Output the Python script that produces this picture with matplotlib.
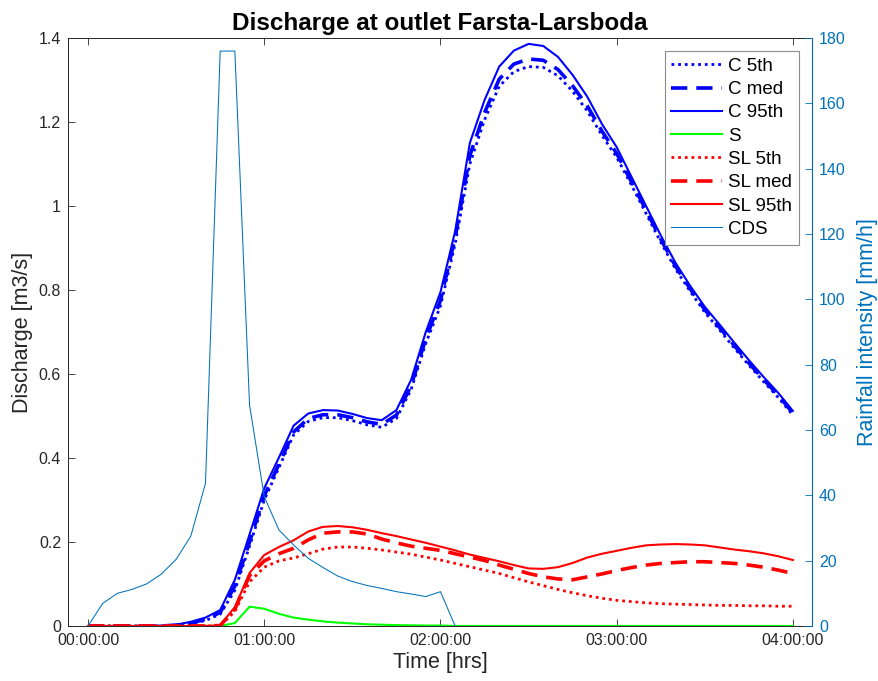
import numpy as np
import matplotlib
matplotlib.use("Agg")
import matplotlib.pyplot as plt
from matplotlib.ticker import FuncFormatter, FixedLocator

plt.rcParams["font.family"] = ["Liberation Sans", "DejaVu Sans"]

# time axis, minutes from storm start (5 min steps)
t_min = np.arange(0, 245, 5)

c_5th = [0, 0, 0, 0, 0, 0, 0.001, 0.005, 0.013, 0.028,
         0.085, 0.19, 0.30, 0.377, 0.455, 0.487, 0.496, 0.496, 0.489, 0.479,
         0.473, 0.494, 0.563, 0.673, 0.762, 0.91, 1.10, 1.205, 1.285, 1.32,
         1.332, 1.33, 1.31, 1.273, 1.226, 1.168, 1.116, 1.05, 0.982, 0.914,
         0.85, 0.797, 0.747, 0.705, 0.662, 0.621, 0.582, 0.544, 0.502]
c_med = [0, 0, 0, 0, 0, 0, 0.002, 0.007, 0.016, 0.032,
         0.095, 0.20, 0.31, 0.385, 0.462, 0.494, 0.503, 0.503, 0.496, 0.486,
         0.48, 0.502, 0.572, 0.684, 0.775, 0.925, 1.12, 1.222, 1.302, 1.338,
         1.35, 1.347, 1.325, 1.286, 1.238, 1.178, 1.125, 1.058, 0.99, 0.921,
         0.857, 0.803, 0.753, 0.711, 0.668, 0.626, 0.587, 0.549, 0.507]
c_95th = [0, 0, 0, 0, 0, 0.001, 0.003, 0.01, 0.02, 0.038,
          0.11, 0.218, 0.328, 0.401, 0.477, 0.506, 0.514, 0.513, 0.505, 0.495,
          0.49, 0.514, 0.586, 0.70, 0.795, 0.94, 1.15, 1.252, 1.332, 1.37,
          1.386, 1.381, 1.355, 1.312, 1.26, 1.195, 1.14, 1.07, 1.0, 0.93,
          0.865, 0.81, 0.76, 0.718, 0.675, 0.633, 0.593, 0.555, 0.512]
s_flow = [0, 0, 0, 0, 0, 0, 0, 0, 0, 0,
          0.007, 0.046, 0.041, 0.029, 0.02, 0.015, 0.011, 0.008, 0.006, 0.004,
          0.003, 0.002, 0.0015, 0.001, 0.001, 0, 0, 0, 0, 0,
          0, 0, 0, 0, 0, 0, 0, 0, 0, 0,
          0, 0, 0, 0, 0, 0, 0, 0, 0]
sl_5th = [0, 0, 0, 0, 0, 0, 0, 0, 0, 0,
          0.035, 0.105, 0.14, 0.155, 0.162, 0.172, 0.183, 0.188, 0.188, 0.185,
          0.181, 0.176, 0.171, 0.164, 0.157, 0.149, 0.141, 0.133, 0.125, 0.115,
          0.105, 0.096, 0.087, 0.079, 0.072, 0.066, 0.061, 0.058, 0.055, 0.053,
          0.052, 0.051, 0.05, 0.049, 0.049, 0.048, 0.048, 0.047, 0.047]
sl_med = [0, 0, 0, 0, 0, 0, 0, 0, 0, 0.001,
          0.04, 0.12, 0.155, 0.172, 0.185, 0.205, 0.221, 0.224, 0.224, 0.219,
          0.207, 0.198, 0.19, 0.185, 0.18, 0.172, 0.164, 0.156, 0.145, 0.135,
          0.125, 0.117, 0.112, 0.11, 0.117, 0.124, 0.132, 0.139, 0.145, 0.149,
          0.151, 0.153, 0.153, 0.151, 0.149, 0.145, 0.14, 0.133, 0.125]
sl_95th = [0, 0, 0, 0, 0, 0, 0, 0, 0, 0.002,
           0.045, 0.126, 0.169, 0.188, 0.204, 0.225, 0.236, 0.238, 0.235, 0.229,
           0.221, 0.214, 0.206, 0.198, 0.189, 0.18, 0.17, 0.162, 0.154, 0.145,
           0.137, 0.136, 0.14, 0.15, 0.163, 0.172, 0.179, 0.186, 0.192, 0.194,
           0.195, 0.194, 0.192, 0.187, 0.182, 0.178, 0.173, 0.166, 0.157]

# Chicago design storm hyetograph [mm/h]
cds_t_min = np.arange(0, 130, 5)
cds = [0, 6.9, 10.0, 11.2, 12.9, 15.9, 20.4, 27.5, 43.7, 176,
       176, 67.6, 39.6, 29.4, 24.8, 20.7, 17.9, 15.3, 13.6, 12.4,
       11.5, 10.5, 9.8, 9.0, 10.5, 0]

MBLUE = "#0072BD"
AXC = "#262626"

t_h = t_min / 60.0
cds_h = cds_t_min / 60.0

fig = plt.figure(figsize=(8.79, 6.81), dpi=100)
ax = fig.add_axes([0.0774, 0.0808, 0.8464, 0.8634])
ax2 = ax.twinx()

ax.plot(t_h, c_5th, color="#0000FF", ls=(0, (1, 1.4)), lw=2.0, label="C 5th")
ax.plot(t_h, c_med, color="#0000FF", ls=(0, (4.5, 2.5)), lw=2.6, label="C med")
ax.plot(t_h, c_95th, color="#0000FF", ls="-", lw=1.5, label="C 95th")
ax.plot(t_h, s_flow, color="#00FF00", ls="-", lw=1.5, label="S")
ax.plot(t_h, sl_5th, color="#FF0000", ls=(0, (1, 1.4)), lw=2.0, label="SL 5th")
ax.plot(t_h, sl_med, color="#FF0000", ls=(0, (4.5, 2.5)), lw=2.6, label="SL med")
ax.plot(t_h, sl_95th, color="#FF0000", ls="-", lw=1.5, label="SL 95th")
ax2.plot(cds_h, cds, color=MBLUE, lw=0.75, label="CDS")

ax.set_xlim(-6.8 / 60, 246.5 / 60)
ax.set_ylim(0, 1.4)
ax2.set_ylim(0, 180)

ax.xaxis.set_major_locator(FixedLocator([0, 1, 2, 3, 4]))
ax.xaxis.set_major_formatter(FuncFormatter(lambda v, p: "%02d:00:00" % round(v)))
ax.set_yticks(np.arange(0, 1.41, 0.2))
ax.yaxis.set_major_formatter(FuncFormatter(lambda v, p: "%g" % round(v, 1)))
ax2.set_yticks(np.arange(0, 181, 20))

ax.tick_params(direction="in", length=5, width=0.6, top=True, right=False,
               labelsize=11.5, colors=AXC, pad=5)
ax2.tick_params(direction="in", length=5, width=0.6, colors=MBLUE,
                labelsize=11.5, pad=5)
for side in ("left", "top", "bottom"):
    ax.spines[side].set_color(AXC)
    ax.spines[side].set_linewidth(0.7)
ax2.spines["right"].set_color(MBLUE)
ax2.spines["right"].set_linewidth(0.7)
for side in ("left", "top", "bottom"):
    ax2.spines[side].set_visible(False)

ax.set_xlabel("Time [hrs]", fontsize=15.5, color=AXC, labelpad=3)
ax.set_ylabel("Discharge [m3/s]", fontsize=15.5, color=AXC, labelpad=4)
ax2.set_ylabel("Rainfall intensity [mm/h]", fontsize=15.5, color=MBLUE, labelpad=8)
ax.set_title("Discharge at outlet Farsta-Larsboda", fontsize=17.5,
             fontweight="bold", color="black", pad=6)

h1, l1 = ax.get_legend_handles_labels()
h2, l2 = ax2.get_legend_handles_labels()
leg = ax2.legend(h1 + h2, l1 + l2, loc="upper right", fontsize=13.5,
                 frameon=True, fancybox=False, framealpha=1,
                 edgecolor="#8c8c8c", handlelength=2.7, handletextpad=0.35,
                 labelspacing=0.33, borderpad=0.35, borderaxespad=0.7)
leg.get_frame().set_linewidth(0.8)

fig.savefig("out.png", dpi=100)
